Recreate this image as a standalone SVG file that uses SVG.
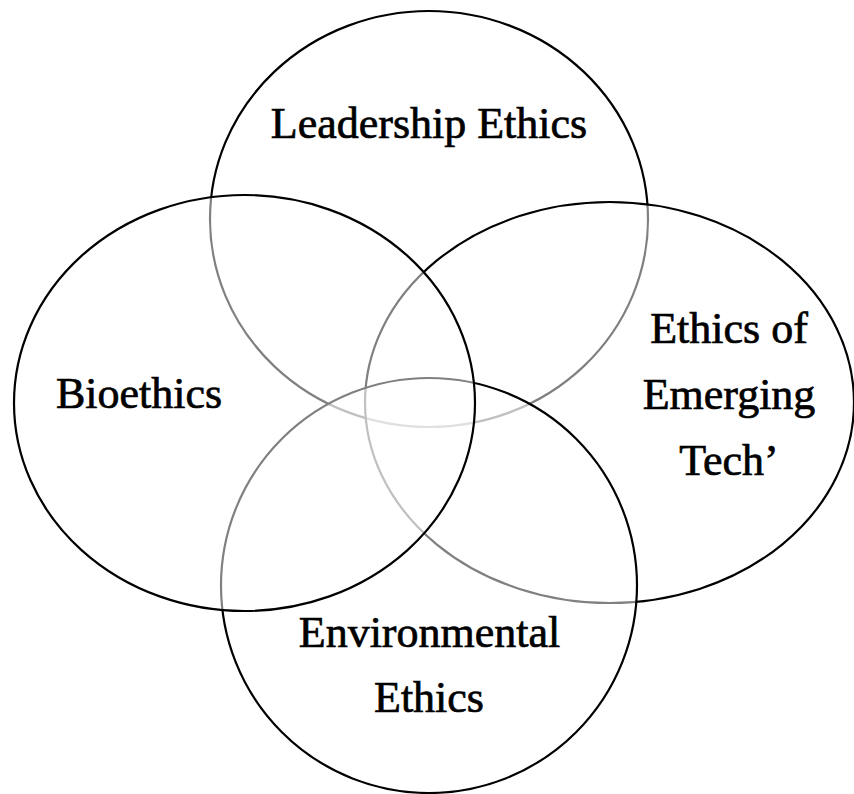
<svg xmlns="http://www.w3.org/2000/svg" width="854" height="794" viewBox="0 0 854 794">
<style>
.c{fill:#ffffff;fill-opacity:0.5;stroke:#000;stroke-width:2.2}
.t{font-family:"Liberation Serif","DejaVu Serif",serif;font-size:44px;fill:#000;stroke:#000;stroke-width:0.7;text-anchor:middle}
</style>
<rect width="854" height="794" fill="#fff"/>
<g id="leadership">
<ellipse class="c" cx="429" cy="219" rx="219" ry="208"/>
<text class="t" x="429" y="138">Leadership Ethics</text>
</g>
<g id="emerging">
<ellipse class="c" cx="609.5" cy="402.5" rx="244.5" ry="200.5"/>
<text class="t" x="729" y="343">Ethics of</text>
<text class="t" x="729" y="409">Emerging</text>
<text class="t" x="729" y="475">Tech’</text>
</g>
<g id="environmental">
<ellipse class="c" cx="429" cy="585.5" rx="208" ry="207.5"/>
<text class="t" x="429.5" y="647">Environmental</text>
<text class="t" x="429" y="712">Ethics</text>
</g>
<g id="bioethics">
<ellipse class="c" cx="244.5" cy="403" rx="230.5" ry="208"/>
<text class="t" x="139" y="408">Bioethics</text>
</g>
<g id="connectors"></g>
</svg>
